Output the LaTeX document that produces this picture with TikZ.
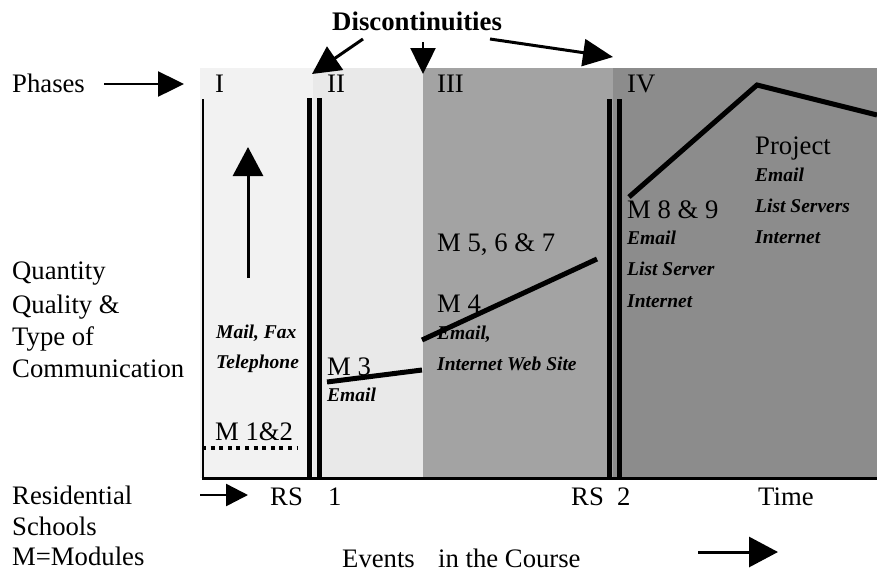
\documentclass[tikz,border=0pt]{standalone}
\usepackage{fontspec}
\setmainfont{Liberation Serif}
\usetikzlibrary{arrows.meta}
\definecolor{phone}{gray}{0.95}
\definecolor{phtwo}{gray}{0.915}
\definecolor{phthree}{gray}{0.64}
\definecolor{phfour}{gray}{0.55}
\begin{document}
\begin{tikzpicture}[x=1pt,y=-1pt,
  lbl/.style={inner sep=0pt, anchor=base west, font=\fontsize{26.7}{31}\selectfont},
  itl/.style={inner sep=0pt, anchor=base west, font=\fontsize{19.5}{23}\selectfont\bfseries\itshape},
  boldlbl/.style={inner sep=0pt, anchor=base west, font=\fontsize{26.8}{31}\selectfont\bfseries},
  trend/.style={line width=5pt},
  bar/.style={line width=5pt},
  bigarrow/.style={line width=2.5pt, -{Triangle[length=26pt,width=25pt]}},
  hugearrow/.style={line width=3pt, -{Triangle[length=29pt,width=30pt]}},
  smallarrow/.style={line width=2.5pt, -{Triangle[length=22pt,width=22pt]}},
]
\useasboundingbox (0,0) rectangle (877,574);
\fill[white] (0,0) rectangle (877,574);
% phase backgrounds
\fill[phone] (200,68) rectangle (313,478);
\fill[phtwo] (313,68) rectangle (423,478);
\fill[phthree] (423,68) rectangle (613,478);
\fill[phfour] (613,68) rectangle (877,478);
% axes and bars
\draw[line width=2.5pt] (203,99) -- (203,478);
\draw[line width=3pt] (201.5,478) -- (877,478);
\draw[bar] (309.5,98) -- (309.5,478);
\draw[bar] (319,98) -- (319,478);
\draw[bar] (609.5,99) -- (609.5,478);
\draw[bar] (619.5,99) -- (619.5,478);
% dotted baseline M1&2
\draw[line width=4pt, dash pattern=on 4pt off 4.6pt] (202,448) -- (297,448);
% trend lines
\coordinate (t3a) at (327,382);
\coordinate (t3b) at (422,370);
\coordinate (t4a) at (422,340);
\coordinate (t4b) at (597,259);
\coordinate (t8a) at (629,197);
\coordinate (t8b) at (757,85);
\coordinate (t8c) at (877,115);
\draw[trend] (t3a) -- (t3b);
\draw[trend] (t4a) -- (t4b);
\draw[trend] (t8a) -- (t8b) -- (t8c);
% top labels
\node[boldlbl] (disc) at (332,30) {Discontinuities};
\node[lbl] (phases) at (12,92) {Phases};
\node[lbl] (pI) at (215,92) {I};
\node[lbl] (pII) at (327,92) {II};
\node[lbl] (pIII) at (437,92) {III};
\node[lbl] (pIV) at (627,92) {IV};
% arrows from Discontinuities
\coordinate (d1s) at (363,39);
\coordinate (d1t) at (312,74);
\coordinate (d2s) at (423,42);
\coordinate (d2t) at (423,74);
\coordinate (d3s) at (490,39);
\coordinate (d3t) at (613,57);
\draw[line width=3pt, -{Triangle[length=28pt,width=28pt]}] (d1s) -- (d1t);
\draw[bigarrow] (d2s) -- (d2t);
\draw[line width=3pt, -{Triangle[length=30pt,width=27pt]}] (d3s) -- (d3t);
% phases arrow
\coordinate (pha) at (104,84);
\coordinate (phb) at (184,84);
\draw[bigarrow] (pha) -- (phb);
% up arrow
\coordinate (upa) at (248,278);
\coordinate (upb) at (248,147);
\draw[hugearrow] (upa) -- (upb);
% left column
\node[lbl] (q1) at (12,279) {Quantity};
\node[lbl] (q2) at (12,313) {Quality \&};
\node[lbl] (q3) at (12,345) {Type of};
\node[lbl] (q4) at (12,377) {Communication};
\node[lbl] (r1) at (12,504) {Residential};
\node[lbl] (r2) at (12,535) {Schools};
\node[lbl] (r3) at (12,565) {M=Modules};
% phase I
\node[itl] (mail) at (216,338) {Mail, Fax};
\node[itl] (tel) at (216,368) {Telephone};
\node[lbl] (m12) at (215,440) {M 1\&2};
% phase II
\node[lbl] (m3) at (327,375) {M 3};
\node[itl] (m3e) at (327,401) {Email};
% phase III
\node[lbl] (m567) at (437,251) {M 5, 6 \& 7};
\node[lbl] (m4) at (437,312) {M 4};
\node[itl] (m4e) at (437,339) {Email,};
\node[itl] (m4i) at (437,370) {Internet Web Site};
% phase IV
\node[lbl] (m89) at (627,218) {M 8 \& 9};
\node[itl] (m89e) at (627,244) {Email};
\node[itl] (m89l) at (627,275) {List Server};
\node[itl] (m89i) at (627,307) {Internet};
\node[lbl] (proj) at (755,154) {Project};
\node[itl] (proje) at (755,181) {Email};
\node[itl] (projl) at (755,212) {List Servers};
\node[itl] (proji) at (755,243) {Internet};
% bottom axis labels
\coordinate (rsa) at (200,495);
\coordinate (rsb) at (248,495);
\draw[smallarrow] (rsa) -- (rsb);
\node[lbl] (rs1) at (270,505) {RS};
\node[lbl] (n1) at (328,505) {1};
\node[lbl] (rs2) at (571,505) {RS};
\node[lbl] (n2) at (617,505) {2};
\node[lbl] (time) at (758,505) {Time};
\node[lbl] (ev) at (342,567) {Events};
\node[lbl] (course) at (438,567) {in the Course};
\coordinate (eva) at (698,552);
\coordinate (evb) at (778,552);
\draw[hugearrow] (eva) -- (evb);
\end{tikzpicture}
\end{document}
